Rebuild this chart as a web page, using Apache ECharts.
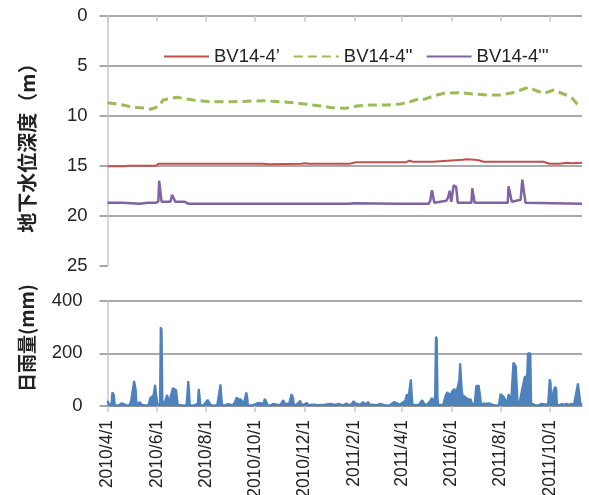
<!DOCTYPE html>
<html><head><meta charset="utf-8">
<script src="https://cdn.jsdelivr.net/npm/echarts@6/dist/echarts.min.js"></script>
<style>html,body{margin:0;padding:0;background:#fff}#c{width:589px;height:495px}</style>
</head><body><div id="c"></div>
<script>
// ---- data (day offsets counted from 2010/4/1) ----
const startYMD = [2010, 4, 1];
const lastDay = 588;
const tickLabels = ['2010/4/1','2010/6/1','2010/8/1','2010/10/1','2010/12/1','2011/2/1','2011/4/1','2011/6/1','2011/8/1','2011/10/1'];
const seriesNames = ['BV14-4\u2019', "BV14-4''", "BV14-4'''"];

const redDay   = [0,20,22,25,60,63,180,182,186,188,192,200,240,245,250,300,308,370,374,378,403,405,440,445,455,460,466,540,542,548,560,570,575,588];
const redDepth = [15.05,15.05,14.95,15.0,15.0,14.8,14.8,14.7,14.8,14.7,14.8,14.85,14.8,14.75,14.8,14.8,14.65,14.65,14.5,14.6,14.6,14.4,14.4,14.35,14.4,14.45,14.6,14.6,14.55,14.8,14.8,14.7,14.75,14.7];

const greenDay   = [0,19,32,49,53,63,69,86,106,127,156,193,214,230,247,264,278,295,309,326,346,363,375,388,392,404,417,437,454,470,487,502,512,522,531,541,553,568,576,582,584];
const greenDepth = [8.7,8.93,9.16,9.26,9.36,9.1,8.43,8.16,8.43,8.6,8.6,8.5,8.6,8.7,8.86,9.03,9.2,9.26,9.03,8.93,8.93,8.83,8.6,8.26,8.36,8.03,7.76,7.7,7.83,7.93,7.93,7.7,7.43,7.16,7.5,7.76,7.43,7.93,8.26,8.83,8.95];

const purpleDay   = [0,15,17,19,30,40,50,60,63,64,66,67,78,80,82,84,95,100,300,305,360,398,400,402,403,405,420,422,424,426,429,430,432,434,451,452,453,455,496,497,499,501,512,514,516,518,588];
const purpleDepth = [18.7,18.7,18.55,18.7,18.75,18.8,18.7,18.7,18.6,16.5,16.4,18.6,18.6,17.9,17.85,18.6,18.6,18.8,18.8,18.75,18.8,18.8,18.5,17.45,17.5,18.7,18.5,18.2,17.5,18.6,16.95,16.9,17.1,18.7,18.7,17.25,17.3,18.7,18.7,17.05,17.1,18.6,18.4,16.4,16.5,18.7,18.8];

// [day, daily rainfall mm]
const rainPoints = [[0,20],[2,5],[5,10],[6,52],[8,40],[9,3],[14,2],[17,10],[20,8],[23,3],[27,2],[29,15],[31,20],[33,95],[35,60],[36,3],[40,15],[42,5],[48,2],[51,5],[53,30],[55,35],[57,40],[59,80],[60,50],[62,5],[65,5],[66,299],[67,290],[68,20],[70,3],[71,15],[74,42],[76,10],[78,3],[81,68],[83,65],[85,60],[87,5],[90,3],[95,2],[98,3],[100,95],[101,60],[102,3],[105,2],[108,3],[112,10],[113,65],[114,40],[115,3],[119,2],[122,15],[124,23],[126,18],[128,3],[132,2],[136,3],[140,82],[141,40],[142,3],[146,2],[149,8],[152,5],[155,3],[158,15],[160,33],[162,25],[165,25],[167,28],[169,10],[172,51],[173,35],[174,3],[178,2],[182,5],[185,10],[188,12],[190,5],[193,8],[195,27],[197,15],[198,3],[202,2],[205,8],[207,3],[210,5],[214,3],[218,22],[219,10],[221,3],[225,8],[228,45],[230,30],[231,3],[234,5],[239,20],[240,5],[243,5],[247,12],[249,3],[252,4],[256,5],[260,3],[265,4],[270,5],[276,8],[280,6],[283,5],[286,8],[288,5],[292,3],[296,10],[299,5],[302,5],[305,19],[307,10],[309,3],[313,5],[317,15],[319,5],[321,3],[323,15],[325,4],[328,5],[333,3],[338,8],[340,5],[345,2],[350,3],[355,15],[357,22],[359,10],[362,5],[365,12],[367,15],[369,20],[371,45],[373,30],[375,80],[376,101],[377,40],[378,5],[382,3],[386,5],[388,10],[390,22],[392,10],[395,3],[399,15],[402,30],[404,20],[405,10],[406,40],[407,263],[408,255],[409,30],[410,3],[412,2],[416,5],[419,40],[421,52],[423,45],[425,40],[427,55],[430,65],[432,45],[434,40],[436,100],[437,162],[438,160],[439,60],[440,40],[443,35],[445,40],[447,25],[450,25],[452,5],[455,10],[457,77],[460,77],[462,75],[463,5],[466,10],[469,8],[472,10],[475,8],[477,10],[479,3],[482,2],[485,3],[487,45],[489,40],[491,35],[493,35],[495,10],[497,45],[499,50],[500,10],[502,10],[503,165],[505,160],[506,150],[508,20],[510,5],[517,110],[520,114],[521,200],[524,200],[525,10],[527,5],[530,3],[534,2],[537,8],[539,3],[546,5],[548,101],[549,90],[550,10],[553,60],[555,73],[556,65],[557,5],[560,3],[563,8],[566,5],[569,8],[572,5],[575,8],[578,5],[580,3],[583,86],[585,80],[586,10],[588,5]];

// ---- helpers ----
function dayToTime(d){ return new Date(startYMD[0], startYMD[1]-1, startYMD[2]+d).getTime(); }
function labelToTime(s){ const p = s.split('/').map(Number); return new Date(p[0], p[1]-1, p[2]).getTime(); }
function zip(days, vals){ return days.map((d,i)=>[dayToTime(d), vals[i]]); }
const tickTimes = tickLabels.map(labelToTime);
const minT = dayToTime(0), maxT = dayToTime(lastDay);

const gridColor = '#8c8c8c';
const axisColor = '#c8c8c8';
const txtColor = '#222';
const numFont = 'Liberation Sans';

function fmtTime(v){
  const i = tickTimes.indexOf(v);
  if (i >= 0) return tickLabels[i];
  const d = new Date(v); return d.getFullYear()+'/'+(d.getMonth()+1)+'/'+d.getDate();
}

const chart = echarts.init(document.getElementById('c'), null, {renderer:'canvas'});
chart.setOption({
  animation: false,
  backgroundColor: '#fff',
  grid: [
    {left: 107.5, right: 7, top: 15.7, height: 250, containLabel:false, outerBoundsMode:'none'},
    {left: 107.5, right: 7, top: 300.7, height: 105.3, containLabel:false, outerBoundsMode:'none'}
  ],
  legend: {
    data: seriesNames, left: 158, top: 42, itemWidth: 45, itemHeight: 14, itemGap: 13,
    itemStyle: {opacity: 0},
    textStyle: {fontSize: 18.5, color: txtColor, fontFamily: numFont}
  },
  xAxis: [
    {type:'value', gridIndex:0, min:minT, max:maxT, scale:true,
     axisLine:{show:false},
     axisTick:{show:true, customValues: tickTimes, length:6, lineStyle:{color:axisColor, width:1.5}},
     axisLabel:{show:false}, splitLine:{show:false}},
    {type:'value', gridIndex:1, min:minT, max:maxT, scale:true,
     axisLine:{show:true, lineStyle:{color:gridColor, width:1.5}},
     axisTick:{show:true, customValues: tickTimes, length:6, lineStyle:{color:axisColor, width:1.5}},
     axisLabel:{show:true, customValues: tickTimes, rotate:90, margin:14, fontSize:17.5, color:txtColor, fontFamily:numFont, formatter: fmtTime},
     splitLine:{show:false}}
  ],
  yAxis: [
    {type:'value', gridIndex:0, inverse:true, min:0, max:25, interval:5,
     axisLine:{show:true, lineStyle:{color:axisColor, width:1.5}},
     axisTick:{show:true, length:8, lineStyle:{color:gridColor, width:1.5}},
     axisLabel:{fontSize:18.5, margin:20, color:txtColor, fontFamily:numFont},
     splitLine:{show:true, lineStyle:{color:[gridColor,gridColor,gridColor,gridColor,gridColor,'rgba(0,0,0,0)'], width:1.5}}},
    {type:'value', gridIndex:1, min:0, max:400, interval:200,
     axisLine:{show:true, lineStyle:{color:axisColor, width:1.5}},
     axisTick:{show:true, length:8, lineStyle:{color:gridColor, width:1.5}},
     axisLabel:{fontSize:18.5, margin:25, color:txtColor, fontFamily:numFont},
     splitLine:{show:true, lineStyle:{color:gridColor, width:1.5}}}
  ],
  graphic: [
    {type:'text', x:27, y:143, rotation:Math.PI/2,
     style:{text:'地下水位深度（m）', font:'bold 20px "Noto Sans CJK JP"', fill:txtColor, align:'center', verticalAlign:'middle'}},
    {type:'text', x:27, y:338, rotation:Math.PI/2,
     style:{text:'日雨量(mm)', font:'bold 19px "Noto Sans CJK JP"', fill:txtColor, align:'center', verticalAlign:'middle'}}
  ],
  series: [
    {name:seriesNames[0], type:'line', xAxisIndex:0, yAxisIndex:0, symbol:'none', data:zip(redDay, redDepth),
     lineStyle:{color:'#C0504D', width:2}, itemStyle:{color:'#C0504D'}},
    {name:seriesNames[1], type:'line', xAxisIndex:0, yAxisIndex:0, symbol:'none', data:zip(greenDay, greenDepth),
     lineStyle:{color:'#9BBB59', width:3, type:[9,5]}, itemStyle:{color:'#9BBB59'}},
    {name:seriesNames[2], type:'line', xAxisIndex:0, yAxisIndex:0, symbol:'none', data:zip(purpleDay, purpleDepth),
     lineStyle:{color:'#8064A2', width:2.5}, itemStyle:{color:'#8064A2'}},
    {name:'rain', type:'line', xAxisIndex:1, yAxisIndex:1, symbol:'none',
     data:rainPoints.map(p=>[dayToTime(p[0]), p[1]]),
     lineStyle:{color:'#4F81BD', width:2.2}, itemStyle:{color:'#4F81BD'}, areaStyle:{color:'#4F81BD', opacity:1}}
  ]
});
</script></body></html>
